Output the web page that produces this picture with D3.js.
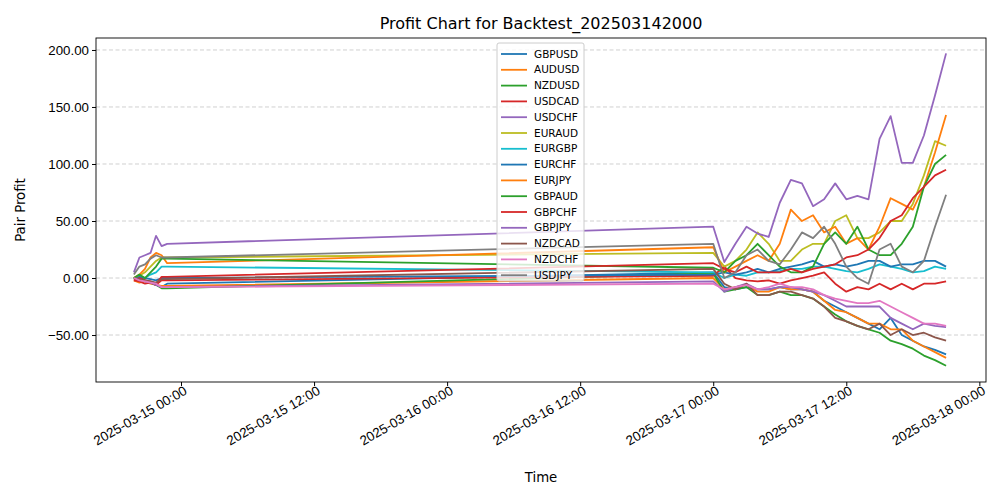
<!DOCTYPE html>
<html><head><meta charset="utf-8">
<script src="https://cdn.jsdelivr.net/npm/d3@7"></script>
<style>body{margin:0;background:#fff;font-family:"DejaVu Sans",sans-serif}</style>
</head><body><svg id="chart" width="1000" height="500"></svg>
<script>
// session 1: Fri evening, session 2: Mon (hourly)
const seg1Times = ["2025-03-14T19:45","2025-03-14T20:15","2025-03-14T20:45","2025-03-14T21:15","2025-03-14T21:45","2025-03-14T22:15","2025-03-14T22:45"];
const seg2Times = d3.range(0, 22).map(h => "2025-03-17T" + String(h).padStart(2, "0") + ":00");
const times = seg1Times.concat(seg2Times).map(s => new Date(s + "Z"));

const pairs = ["GBPUSD","AUDUSD","NZDUSD","USDCAD","USDCHF","EURAUD","EURGBP","EURCHF","EURJPY","GBPAUD","GBPCHF","GBPJPY","NZDCAD","NZDCHF","USDJPY"];
const colors = ["#1f77b4","#ff7f0e","#2ca02c","#d62728","#9467bd","#bcbd22","#17becf","#1f77b4","#ff7f0e","#2ca02c","#d62728","#9467bd","#8c564b","#e377c2","#7f7f7f"];

const GBPUSD = [0,-2,-3,-4,-6,-8,-5, 5,-8,-10,-8,-10,-10,-8,-10,-10,-12,-20,-25,-30,-35,-40,-45,-35,-50,-55,-60,-63,-67];
const AUDUSD = [-2,-4,-3,-5,-6,-7,-7, 0,-10,-8,-6,-12,-12,-8,-10,-10,-12,-20,-28,-30,-35,-40,-40,-45,-45,-55,-60,-65,-70];
const NZDUSD = [-1,2,-2,-4,-6,-9,-9, 4,-12,-10,-8,-15,-15,-12,-15,-15,-18,-25,-32,-38,-42,-45,-48,-55,-58,-62,-68,-72,-77];
const USDCAD = [-2,-3,-5,-4,-6,-2,-2, 2,10,0,-2,-3,-2,-5,-2,0,2,5,-5,-12,-8,-10,-5,-10,-5,-10,-5,-5,-3];
const USDCHF = [0,-1,-3,-4,-6,-8,-8, -3,-12,-8,-5,-10,-10,-8,-8,-10,-12,-15,-20,-25,-25,-25,-25,-35,-40,-45,-40,-42,-43];
const EURAUD = [0,2,5,10,15,18,18, 22,10,15,25,40,30,15,15,25,30,30,50,55,35,35,40,50,50,65,90,120,116];
const EURGBP = [0,2,0,3,5,10,10, 5,0,3,2,5,5,6,8,8,10,10,8,6,5,8,12,10,8,5,6,10,8];
const EURCHF = [0,1,0,-1,-2,0,0, 3,5,3,5,8,5,8,10,12,15,10,12,10,12,15,15,10,12,12,15,15,10];
const EURJPY = [0,3,8,18,22,20,13, 27,5,10,15,20,15,30,60,50,55,40,45,30,35,25,45,70,65,60,80,110,143];
const GBPAUD = [0,3,0,5,10,17,17, 9,5,15,20,30,20,10,5,5,10,30,40,30,45,25,20,20,30,45,80,100,108];
const GBPCHF = [-2,0,-2,-3,-5,1,1, 13,8,5,10,5,5,5,8,5,8,10,12,18,20,25,35,50,55,70,80,90,95];
const GBPJPY = [5,18,20,22,37,28,30, 45,14,30,45,39,36,66,86,83,63,69,83,69,72,69,122,142,101,101,125,160,197];
const NZDCAD = [0,-1,-2,-3,-4,-1,-1, 8,-5,-10,-5,-15,-15,-12,-12,-15,-18,-25,-35,-38,-42,-45,-40,-50,-45,-50,-48,-52,-55];
const NZDCHF = [0,-2,-3,-4,-5,-8,-8, -5,-10,-8,-6,-10,-8,-5,-8,-8,-10,-15,-18,-20,-22,-22,-20,-25,-30,-35,-40,-40,-42];
const USDJPY = [3,10,12,17,20,18,18, 30,0,5,20,25,15,12,25,40,35,45,30,10,0,-5,25,30,10,5,15,45,73];
const seriesValues = [GBPUSD,AUDUSD,NZDUSD,USDCAD,USDCHF,EURAUD,EURGBP,EURCHF,EURJPY,GBPAUD,GBPCHF,GBPJPY,NZDCAD,NZDCHF,USDJPY];
const yTicks = [-50, 0, 50, 100, 150, 200];

const m = {l: 96, r: 986, t: 38, b: 382};
const svg = d3.select("#chart");
const x = d3.scaleUtc().domain([new Date("2025-03-14T16:20Z"), new Date("2025-03-18T00:36Z")]).range([m.l, m.r]);
const y = d3.scaleLinear().domain([-91.2, 210.5]).range([m.b, m.t]);

// grid
svg.append("g").selectAll("line").data(yTicks).join("line")
  .attr("x1", m.l).attr("x2", m.r).attr("y1", d => y(d)).attr("y2", d => y(d))
  .attr("stroke", "#b0b0b0").attr("stroke-opacity", 0.6).attr("stroke-dasharray", "4,2.5");

const line = d3.line().x((d, i) => x(times[i])).y(d => y(d));
svg.append("g").selectAll("path").data(seriesValues).join("path")
  .attr("d", line).attr("fill", "none").attr("stroke", (d, i) => colors[i]).attr("stroke-width", 1.8)
  .attr("stroke-linejoin", "round");

// axes
const xAxis = svg.append("g").attr("transform", `translate(0,${m.b})`)
  .call(d3.axisBottom(x).tickValues(d3.range(0, 7).map(k => new Date(Date.UTC(2025, 2, 15, 12 * k))))
    .tickFormat(d3.utcFormat("%Y-%m-%d %H:%M")).tickSizeOuter(0).tickSize(4));
xAxis.selectAll("text").attr("font-size", 13.3).attr("fill", "#000")
  .attr("text-anchor", "end").attr("x", 0).attr("y", 5).attr("dy", "0.6em")
  .attr("transform", "rotate(-30)");
const yAxis = svg.append("g").attr("transform", `translate(${m.l},0)`)
  .call(d3.axisLeft(y).tickValues(yTicks).tickFormat(d => d3.format(".2f")(d).replace("-", "\u2212")).tickSizeOuter(0).tickSize(4));
yAxis.selectAll("text").attr("font-size", 13.3).attr("fill", "#000");
[xAxis, yAxis].forEach(a => a.select(".domain").remove());
svg.append("rect").attr("x", m.l).attr("y", m.t).attr("width", m.r - m.l).attr("height", m.b - m.t)
  .attr("fill", "none").attr("stroke", "#000").attr("stroke-width", 0.9);

svg.append("text").attr("x", 541).attr("y", 29).attr("text-anchor", "middle").attr("font-size", 16).text("Profit Chart for Backtest_202503142000");
svg.append("text").attr("x", 541).attr("y", 482).attr("text-anchor", "middle").attr("font-size", 13.3).text("Time");
svg.append("text").attr("transform", "translate(25,210) rotate(-90)").attr("text-anchor", "middle").attr("font-size", 13.3).text("Pair Profit");

// legend
const lg = svg.append("g").attr("transform", "translate(497,43)");
lg.append("rect").attr("width", 87).attr("height", 238).attr("rx", 2)
  .attr("fill", "#fff").attr("fill-opacity", 0.8).attr("stroke", "#ccc");
const items = lg.selectAll("g").data(pairs).join("g").attr("transform", (d, i) => `translate(4,${11 + i * 15.8})`);
items.append("line").attr("x2", 26).attr("stroke", (d, i) => colors[i]).attr("stroke-width", 1.8);
items.append("text").attr("x", 33).attr("dy", "0.35em").attr("font-size", 10.5).text(d => d);
</script></body></html>
